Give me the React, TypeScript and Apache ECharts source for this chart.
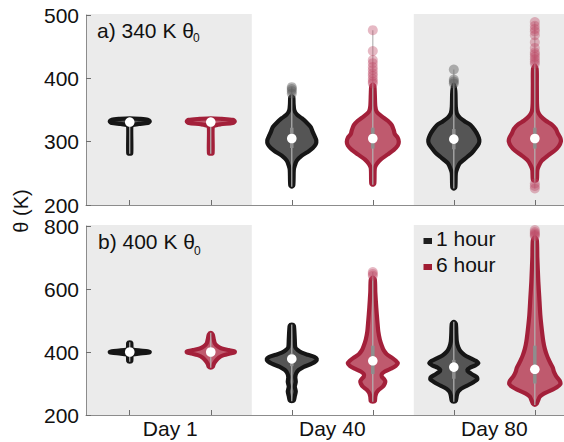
import React, { useEffect, useRef } from 'react';
import * as echarts from 'echarts';

// ---------- data ----------
const CATEGORIES = ['Day 1', 'Day 40', 'Day 80'];
const SERIES_NAMES = ['1 hour', '6 hour'];
const POSITIONS = [1, 2, 3, 4, 5, 6]; // Day1 1h, Day1 6h, Day40 1h, Day40 6h, Day80 1h, Day80 6h
const X_TICKS = [1, 2, 3, 4, 5, 6];
const X_LABEL_AT = [1.5, 3.5, 5.5];
const SHADED = [[0.46, 2.5], [4.5, 6.36]];
const PANEL_TITLES = ['a) 340 K θ', 'b) 400 K θ'];
const PANEL_SUBSCRIPT = '0';

// violin profiles: [θ (K), relative density]
const A_D1_1H = [[281, 0], [282, 1.5], [322, 1.5], [326, 2.5], [328, 9], [329.5, 18], [332, 20], [334.5, 18], [336, 10], [337, 0]];
const A_D1_6H = [[281, 0], [282, 1.8], [320, 1.8], [325, 3], [327.5, 10], [329.5, 22], [332, 24], [334.5, 22], [336, 11], [337, 0]];
const A_D40_1H = [[229, 0], [231, 1.5], [255, 2], [262, 3], [270, 5], [278, 10], [285, 17], [290, 21], [296, 24], [302, 24.5], [308, 23], [315, 21], [323, 19], [330, 15], [337, 10], [343, 5], [350, 2.5], [360, 1.8], [370, 1.5], [372, 0]];
const A_D40_6H = [[232, 0], [234, 1.5], [258, 2], [265, 4], [272, 8], [280, 15], [287, 21], [294, 25], [300, 26], [306, 25], [312, 22], [318, 21], [326, 19], [333, 15], [340, 9], [347, 4], [356, 2.5], [375, 2], [388, 1.5], [390, 0]];
const A_D80_1H = [[226, 0], [228, 1.5], [250, 2], [258, 3.5], [266, 6], [274, 12], [282, 18], [290, 22], [297, 25], [303, 25.5], [310, 24], [318, 21], [326, 17], [332, 11], [338, 6], [345, 3], [355, 2], [380, 1.5], [390, 0]];
const A_D80_6H = [[238, 0], [240, 2], [255, 2.5], [262, 4], [270, 7], [278, 13], [286, 20], [293, 24], [300, 26], [306, 25.5], [313, 23], [320, 21], [327, 17], [333, 11], [340, 6], [348, 3], [360, 2.2], [390, 2], [415, 1.8], [420, 0]];

const B_D1_1H = [[369, 0], [371, 1.5], [388, 1.8], [392, 3], [395, 9], [397.5, 18], [400, 20], [402.5, 18], [405, 9], [408, 3], [412, 1.8], [429, 1.5], [431, 0]];
const B_D1_6H = [[350, 0], [353, 2], [362, 3], [372, 5], [382, 8], [390, 13], [395, 19], [399, 24], [402, 24], [406, 18], [411, 11], [418, 7], [428, 4], [440, 3], [455, 2], [461, 0]];
const B_D40_1H = [[244, 0], [246, 2], [260, 3], [275, 4], [290, 3], [305, 4], [320, 3.5], [333, 4.5], [343, 7], [353, 12], [363, 20], [371, 24], [378, 25], [384, 23], [391, 16], [398, 10], [406, 6], [415, 3.5], [440, 3], [470, 2.5], [484, 2], [487, 0]];
const B_D40_6H = [[242, 0], [244, 2], [258, 2.5], [270, 3.5], [280, 6], [290, 10], [300, 12], [307, 12.5], [315, 11], [322, 9], [330, 9], [338, 12], [347, 18], [356, 23], [364, 25], [372, 23], [382, 19], [393, 14], [405, 11], [420, 9], [440, 7], [465, 5.5], [500, 4.5], [540, 3.5], [590, 2.5], [630, 2], [636, 0]];
const B_D80_1H = [[242, 0], [245, 2], [262, 3], [272, 4], [280, 6], [288, 10], [296, 15], [305, 20], [313, 23.5], [320, 23], [328, 19], [336, 15], [343, 13.5], [350, 16], [357, 21], [364, 24.5], [372, 22], [380, 17], [390, 11], [401, 7], [415, 4.5], [433, 3], [460, 2.5], [490, 2], [496, 0]];
const B_D80_6H = [[232, 0], [236, 2], [248, 3.5], [258, 5], [268, 9], [278, 16], [288, 22], [298, 25.5], [308, 25], [318, 22.5], [328, 20.5], [338, 19], [350, 18], [362, 16], [375, 14], [390, 12], [410, 10], [433, 8.5], [470, 7], [517, 5.5], [570, 4.5], [623, 3.5], [700, 2.5], [755, 2], [765, 0]];

const A_MEDIANS = [331, 331, 305, 305, 304, 305];
const A_Q1 = [329, 329, 290, 289, 288, 289];
const A_Q3 = [334, 334, 322, 322, 320, 322];
const A_OUTLIERS = [
  [], [],
  [376, 380, 383, 386],
  [392, 395, 399, 404, 408, 413, 418, 424, 429, 443, 476],
  [392, 395, 398, 414],
  [226, 230, 234, 423, 426, 430, 434, 438, 441, 448, 457, 468, 474, 478, 483, 489],
];

const B_MEDIANS = [400, 400, 378, 372, 352, 345];
const B_Q1 = [397, 392, 355, 330, 315, 300];
const B_Q3 = [403, 408, 395, 420, 375, 420];
const B_OUTLIERS = [
  [], [], [],
  [642, 648, 654],
  [],
  [768, 772, 776, 781, 787],
];

const A_PROFILES = [A_D1_1H, A_D1_6H, A_D40_1H, A_D40_6H, A_D80_1H, A_D80_6H];
const B_PROFILES = [B_D1_1H, B_D1_6H, B_D40_1H, B_D40_6H, B_D80_1H, B_D80_6H];

const A_Y = { min: 200, max: 500, interval: 100 };
const B_Y = { min: 200, max: 800, interval: 200 };

// ---------- style ----------
const FONT = "'Liberation Sans', Arial, Helvetica, sans-serif";
const DENSITY_TO_X = 0.01235; // x-axis units per density unit
const C1 = { fill: '#555555', stroke: '#161616', out: 'rgba(90,90,90,0.45)' };
const C6 = { fill: '#bf5a6e', stroke: '#a3203a', out: 'rgba(190,70,100,0.38)' };
const AXIS_GRAY = '#8c8c8c';
const BG_GRAY = '#ebebeb';

function makeViolinRender(profiles: number[][][], medians: number[], q1: number[], q3: number[], outliers: number[][]) {
  return (params: any, api: any) => {
    const i = params.dataIndex;
    const pos = POSITIONS[i];
    const prof = profiles[i];
    const col = i % 2 === 0 ? C1 : C6;
    const right = prof.map(([v, d]) => api.coord([pos + d * DENSITY_TO_X, v]));
    const left = prof.slice(1, -1).reverse().map(([v, d]) => api.coord([pos - d * DENSITY_TO_X, v]));
    const pts = right.concat(left);
    const outs = outliers[i];
    const vmin = Math.min(prof[0][0], ...outs);
    const vmax = Math.max(prof[prof.length - 1][0], ...outs);
    const top = api.coord([pos, vmax]);
    const bot = api.coord([pos, vmin]);
    const qa = api.coord([pos, q1[i]]);
    const qb = api.coord([pos, q3[i]]);
    const med = api.coord([pos, medians[i]]);
    const children: any[] = [
      {
        type: 'polygon',
        shape: { points: pts, smooth: 0.25 },
        style: { fill: col.fill, stroke: col.stroke, lineWidth: 4.2, lineJoin: 'round' },
      },
      {
        type: 'line',
        shape: { x1: top[0], y1: top[1], x2: bot[0], y2: bot[1] },
        style: { stroke: '#b4b4b4', lineWidth: 1.2 },
      },
      {
        type: 'line',
        shape: { x1: qa[0], y1: qa[1], x2: qb[0], y2: qb[1] },
        style: { stroke: '#8e8e8e', lineWidth: 3.5 },
      },
    ];
    outs.forEach((o) => {
      const p = api.coord([pos, o]);
      children.push({ type: 'circle', shape: { cx: p[0], cy: p[1], r: 5 }, style: { fill: col.out } });
    });
    children.push({ type: 'circle', shape: { cx: med[0], cy: med[1], r: 4.8 }, style: { fill: '#ffffff' } });
    return { type: 'group', children };
  };
}

function bgRender(params: any, api: any) {
  const p0 = api.coord([api.value(0), 0]);
  const p1 = api.coord([api.value(1), 0]);
  const cs = params.coordSys;
  return {
    type: 'rect',
    shape: { x: p0[0] + 0.5, y: cs.y - 1, width: p1[0] - p0[0], height: cs.height + 1 },
    style: { fill: BG_GRAY },
  };
}

function xAxisCfg(gridIndex: number, showLabels: boolean) {
  return {
    type: 'value',
    gridIndex,
    min: 0.46,
    max: 6.36,
    z: 5,
    axisLine: { show: true, onZero: false, lineStyle: { color: AXIS_GRAY, width: 1 } },
    axisTick: { show: true, inside: true, length: 5, customValues: X_TICKS, lineStyle: { color: '#6e6e6e' } },
    splitLine: { show: false },
    axisLabel: showLabels
      ? {
          show: true,
          customValues: X_LABEL_AT,
          formatter: (v: number) => CATEGORIES[X_LABEL_AT.indexOf(v)] ?? '',
          fontSize: 21,
          fontFamily: FONT,
          color: '#111',
          margin: 3,
        }
      : { show: false },
  };
}

function yAxisCfg(gridIndex: number, r: { min: number; max: number; interval: number }) {
  return {
    type: 'value',
    gridIndex,
    min: r.min,
    max: r.max,
    interval: r.interval,
    z: 5,
    axisLine: { show: true, lineStyle: { color: AXIS_GRAY, width: 1 } },
    axisTick: { show: true, inside: true, length: 5, lineStyle: { color: '#6e6e6e' } },
    splitLine: { show: false },
    axisLabel: { fontSize: 21, fontFamily: FONT, color: '#111', margin: 7 },
  };
}

export default function App() {
  const ref = useRef<HTMLDivElement>(null);
  useEffect(() => {
    if (!ref.current) return;
    const chart = echarts.init(ref.current, undefined, { renderer: 'svg' });
    const violinData = POSITIONS.map((p, i) => [p, A_MEDIANS[i]]);
    const violinDataB = POSITIONS.map((p, i) => [p, B_MEDIANS[i]]);
    const txt = (text: string, x: number, y: number, size: number, extra: any = {}) => ({
      type: 'text',
      x,
      y,
      z: 100,
      style: { text, fontSize: size, fontFamily: FONT, fill: '#111', verticalAlign: 'middle', align: 'left', ...extra },
    });
    chart.setOption({
      animation: false,
      backgroundColor: '#ffffff',
      grid: [
        { left: 86, right: 0, top: 15, height: 190 },
        { left: 86, right: 0, top: 226, height: 189 },
      ],
      xAxis: [xAxisCfg(0, false), xAxisCfg(1, true)],
      yAxis: [yAxisCfg(0, A_Y), yAxisCfg(1, B_Y)],
      series: [
        { type: 'custom', xAxisIndex: 0, yAxisIndex: 0, z: 1, silent: true, renderItem: bgRender, data: SHADED, encode: { x: [0, 1] } },
        { type: 'custom', xAxisIndex: 1, yAxisIndex: 1, z: 1, silent: true, renderItem: bgRender, data: SHADED, encode: { x: [0, 1] } },
        {
          type: 'custom', name: 'a', xAxisIndex: 0, yAxisIndex: 0, z: 3, clip: false,
          renderItem: makeViolinRender(A_PROFILES, A_MEDIANS, A_Q1, A_Q3, A_OUTLIERS),
          data: violinData, encode: { x: 0, y: 1 },
        },
        {
          type: 'custom', name: 'b', xAxisIndex: 1, yAxisIndex: 1, z: 3, clip: false,
          renderItem: makeViolinRender(B_PROFILES, B_MEDIANS, B_Q1, B_Q3, B_OUTLIERS),
          data: violinDataB, encode: { x: 0, y: 1 },
        },
      ],
      graphic: [
        txt(PANEL_TITLES[0], 97, 30.5, 21),
        txt(PANEL_SUBSCRIPT, 193, 38, 12),
        txt(PANEL_TITLES[1], 98, 241.5, 21),
        txt(PANEL_SUBSCRIPT, 194, 251, 12),
        { ...txt('θ (K)', 21, 211, 20, { align: 'center' }), rotation: Math.PI / 2 },
        { type: 'rect', z: 100, shape: { x: 423.5, y: 238, width: 8.5, height: 6 }, style: { fill: '#1e1e1e' } },
        txt(SERIES_NAMES[0], 436, 238, 21),
        { type: 'rect', z: 100, shape: { x: 423.5, y: 264, width: 8.5, height: 6 }, style: { fill: '#a01c32' } },
        txt(SERIES_NAMES[1], 436, 264.5, 21),
      ],
    });
    return () => chart.dispose();
  }, []);
  return <div ref={ref} style={{ position: 'fixed', left: 0, top: 0, width: 564, height: 442 }} />;
}
